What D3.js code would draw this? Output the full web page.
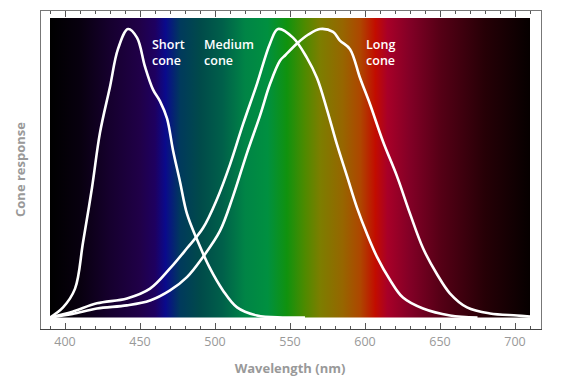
<!DOCTYPE html>
<html>
<head>
<meta charset="utf-8">
<script src="https://cdn.jsdelivr.net/npm/d3@7"></script>
<style>
  html, body { margin: 0; padding: 0; background: #fff; }
  svg { display: block; font-family: "Open Sans", Lato, sans-serif; }
</style>
</head>
<body>
<svg id="chart" width="563" height="377"></svg>
<script>
// wavelength (nm) and normalised response for each cone
const shortNm  = [390, 398.7, 406.7, 412, 418, 423.3, 430, 435.3, 442, 448, 453.3, 458.7, 463.3, 468, 472, 476.7, 481.3, 488, 496.7, 505.3, 514.7, 528, 545, 560];
const shortVal = [0, 0.035, 0.10, 0.26, 0.45, 0.64, 0.80, 0.93, 1.0, 0.97, 0.87, 0.79, 0.75, 0.69, 0.58, 0.47, 0.36, 0.27, 0.17, 0.094, 0.035, 0.007, 0, 0];

const mediumNm  = [390, 405, 421.3, 441.3, 456.7, 470, 481.3, 492, 501.3, 510, 518.7, 528, 536.7, 542, 552, 561.3, 568, 574.7, 581.3, 588, 594.7, 601.3, 608, 616.7, 625.3, 638.7, 656.7, 675];
const mediumVal = [0, 0.02, 0.049, 0.066, 0.10, 0.17, 0.24, 0.31, 0.41, 0.53, 0.67, 0.81, 0.95, 1.0, 0.97, 0.90, 0.83, 0.72, 0.60, 0.49, 0.38, 0.29, 0.21, 0.13, 0.069, 0.031, 0.007, 0];

const longNm  = [390, 405, 421.3, 441.3, 456.7, 470, 481.3, 492, 503.3, 512, 521.3, 530, 536.7, 543.3, 547, 554.7, 562, 570, 578.7, 583.3, 590, 596.7, 603.3, 612, 621.3, 630, 638.7, 648, 656.7, 668, 683.3, 701.3, 710];
const longVal = [0, 0.012, 0.031, 0.042, 0.059, 0.094, 0.14, 0.21, 0.30, 0.42, 0.57, 0.70, 0.81, 0.89, 0.91, 0.95, 0.98, 1.0, 0.99, 0.96, 0.93, 0.83, 0.74, 0.61, 0.49, 0.36, 0.24, 0.15, 0.083, 0.035, 0.014, 0.007, 0.003];

const coneNames = ['Short cone', 'Medium cone', 'Long cone'];
const labelNm   = [458, 492.7, 600.7];

// visible spectrum background
const spectrumNm     = [390, 410, 430, 450, 460, 467, 477, 490, 505, 520, 535, 548, 560, 570, 585, 597, 607, 615, 630, 650, 680, 710];
const spectrumColors = ['#000000', '#08000f', '#16002e', '#200048', '#1e0060', '#0a0a8c', '#003a5c', '#004a4a', '#00604a', '#008446', '#009040', '#10920e', '#4e8a00', '#7c7e00', '#966600', '#ae4600', '#c20c00', '#a80028', '#820026', '#560016', '#260006', '#060000'];

const xTicks = d3.range(390, 711, 10);
const xLabels = [400, 450, 500, 550, 600, 650, 700];

const svg = d3.select('#chart');

const x = d3.scaleLinear().domain([390, 710]).range([50, 530]);
const y = d3.scaleLinear().domain([0, 1]).range([317.5, 29]);

const pad = 10.5;
const frame = { x0: x(390) - pad, x1: x(710) + pad, y0: y(1) - 19, y1: y(0) + 11.5 };

/* ── Gradient ── */
const grad = svg.append('defs').append('linearGradient')
  .attr('id', 'spectrum')
  .attr('gradientUnits', 'userSpaceOnUse')
  .attr('x1', x(390)).attr('x2', x(710))
  .attr('y1', 0).attr('y2', 0);
grad.selectAll('stop')
  .data(spectrumNm)
  .join('stop')
  .attr('offset', (d) => (d - 390) / (710 - 390))
  .attr('stop-color', (d, i) => spectrumColors[i]);

svg.append('rect')
  .attr('x', x(390)).attr('y', frame.y0 + 8)
  .attr('width', x(710) - x(390))
  .attr('height', y(0) - frame.y0 - 8)
  .attr('fill', 'url(#spectrum)');

/* ── Frame ── */
svg.append('rect')
  .attr('x', Math.round(frame.x0) + 0.5).attr('y', Math.round(frame.y0) + 0.5)
  .attr('width', Math.round(frame.x1 - frame.x0))
  .attr('height', Math.round(frame.y1 - frame.y0))
  .attr('fill', 'none')
  .attr('stroke', '#777')
  .attr('stroke-width', 1);

svg.append('line')
  .attr('x1', Math.round(frame.x0)).attr('x2', Math.round(frame.x1) + 1)
  .attr('y1', Math.round(frame.y1) + 0.5).attr('y2', Math.round(frame.y1) + 0.5)
  .attr('stroke', '#444');

/* ── Ticks (top and bottom, inside frame) ── */
const tickLen = (d) => (d % 50 === 0 ? 6 : 3);
svg.append('g')
  .selectAll('line')
  .data(xTicks)
  .join('line')
  .attr('x1', (d) => Math.round(x(d)) + 0.5)
  .attr('x2', (d) => Math.round(x(d)) + 0.5)
  .attr('y1', Math.round(frame.y1))
  .attr('y2', (d) => Math.round(frame.y1) - tickLen(d))
  .attr('stroke', '#555');
svg.append('g')
  .selectAll('line')
  .data(xTicks)
  .join('line')
  .attr('x1', (d) => Math.round(x(d)) + 0.5)
  .attr('x2', (d) => Math.round(x(d)) + 0.5)
  .attr('y1', Math.round(frame.y0) + 1)
  .attr('y2', (d) => Math.round(frame.y0) + 1 + tickLen(d))
  .attr('stroke', '#555');

svg.append('g')
  .selectAll('text')
  .data(xLabels)
  .join('text')
  .attr('x', (d) => x(d))
  .attr('y', frame.y1 + 17)
  .attr('text-anchor', 'middle')
  .attr('fill', '#999')
  .attr('font-size', 12.5)
  .text((d) => d);

/* ── Axis titles ── */
svg.append('text')
  .attr('x', (frame.x0 + frame.x1) / 2)
  .attr('y', 373)
  .attr('text-anchor', 'middle')
  .attr('fill', '#999')
  .attr('font-size', 13)
  .attr('font-weight', 700)
  .text('Wavelength (nm)');

svg.append('text')
  .attr('transform', `translate(25,${(frame.y0 + frame.y1) / 2}) rotate(-90)`)
  .attr('text-anchor', 'middle')
  .attr('fill', '#999')
  .attr('font-size', 13)
  .attr('font-weight', 700)
  .text('Cone response');

/* ── Curves ── */
const line = d3.line()
  .x((d) => x(d[0]))
  .y((d) => y(d[1]))
  .curve(d3.curveCatmullRom.alpha(0.5));

const series = [
  d3.zip(shortNm, shortVal),
  d3.zip(mediumNm, mediumVal),
  d3.zip(longNm, longVal)
];

svg.append('g')
  .selectAll('path')
  .data(series)
  .join('path')
  .attr('d', line)
  .attr('fill', 'none')
  .attr('stroke', '#fff')
  .attr('stroke-width', 2.6)
  .attr('stroke-linejoin', 'round');

/* ── Cone labels ── */
const lbl = svg.append('g')
  .selectAll('text')
  .data(coneNames)
  .join('text')
  .attr('x', (d, i) => x(labelNm[i]))
  .attr('y', 49)
  .attr('fill', '#fff')
  .attr('font-size', 12.5)
  .attr('font-weight', 600);
lbl.append('tspan').text((d) => d.split(' ')[0]);
lbl.append('tspan')
  .attr('x', (d, i) => x(labelNm[i]))
  .attr('dy', 16)
  .text((d) => d.split(' ')[1]);
</script>
</body>
</html>
